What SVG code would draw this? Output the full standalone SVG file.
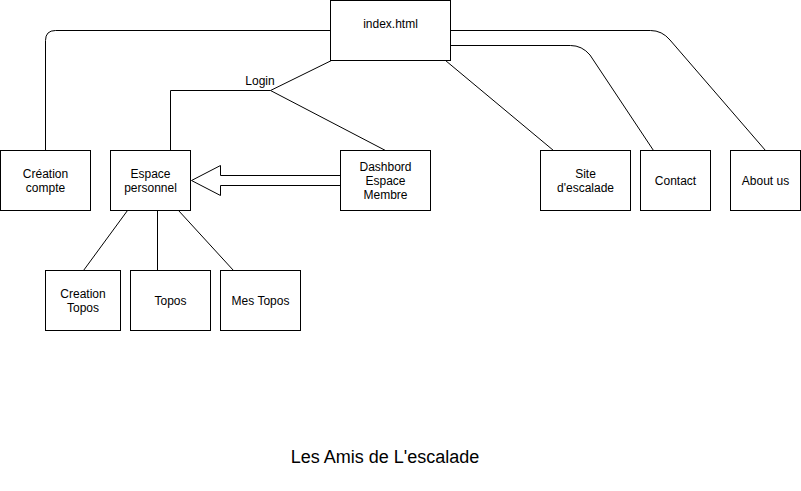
<svg xmlns="http://www.w3.org/2000/svg" width="801" height="491" viewBox="0 0 801 491">
<style>
.box{fill:#fff;stroke:#000;stroke-width:1}
.t{font-family:"Liberation Sans",Arial,sans-serif;font-size:12px;fill:#000;text-anchor:middle}
.c{fill:none;stroke:#000;stroke-width:1}
</style>
<rect width="801" height="491" fill="#fff"/>
<g id="connectors">
<path class="c" d="M330.5,30.5 L55.5,30.5 Q45.5,30.5 45.5,40.5 L45.5,150.5"/>
<path class="c" d="M450.5,30.5 L650.5,30.5 Q662,30.5 670,40 L765.5,150.5"/>
<path class="c" d="M450.5,45.5 L570.5,45.5 Q582,45.5 590,55 L653.5,150.5"/>
<path class="c" d="M445.5,60.5 L553.5,150.5"/>
<path class="c" d="M331.5,60.5 L270.5,90.5 L170.5,90.5 L170.5,150.5"/>
<path class="c" d="M270.5,90.5 L385.5,150.5"/>
<path class="c" d="M127.5,210.5 L83.5,270.5"/>
<path class="c" d="M157.5,210.5 L157.5,270.5"/>
<path class="c" d="M178.5,210.5 L233.5,270.5"/>
<polygon points="340.5,175.5 220.5,175.5 220.5,165.5 191.5,180.5 220.5,195.5 220.5,185.5 340.5,185.5" fill="#fff" stroke="#000" stroke-width="1"/>
<text class="t" x="260" y="85">Login</text>
</g>
<g id="index"><rect class="box" x="330.5" y="0.5" width="120" height="60"/><text class="t" x="390.5" y="28">index.html</text></g>
<g id="creation-compte"><rect class="box" x="0.5" y="150.5" width="90" height="60"/><text class="t" x="45.5" y="178">Création</text><text class="t" x="45.5" y="192">compte</text></g>
<g id="espace-personnel"><rect class="box" x="110.5" y="150.5" width="80" height="60"/><text class="t" x="150.5" y="178">Espace</text><text class="t" x="150.5" y="192">personnel</text></g>
<g id="dashbord"><rect class="box" x="340.5" y="150.5" width="90" height="60"/><text class="t" x="385.5" y="171">Dashbord</text><text class="t" x="385.5" y="185">Espace</text><text class="t" x="385.5" y="199">Membre</text></g>
<g id="site"><rect class="box" x="540.5" y="150.5" width="90" height="60"/><text class="t" x="585.5" y="178">Site</text><text class="t" x="585.5" y="192">d'escalade</text></g>
<g id="contact"><rect class="box" x="640.5" y="150.5" width="70" height="60"/><text class="t" x="675.5" y="185">Contact</text></g>
<g id="about"><rect class="box" x="730.5" y="150.5" width="70" height="60"/><text class="t" x="765.5" y="185">About us</text></g>
<g id="creation-topos"><rect class="box" x="45.5" y="270.5" width="75" height="60"/><text class="t" x="83" y="298">Creation</text><text class="t" x="83" y="312">Topos</text></g>
<g id="topos"><rect class="box" x="130.5" y="270.5" width="80" height="60"/><text class="t" x="170.5" y="305">Topos</text></g>
<g id="mes-topos"><rect class="box" x="220.5" y="270.5" width="80" height="60"/><text class="t" x="260.5" y="305">Mes Topos</text></g>
<text x="385" y="463" font-family="Liberation Sans,Arial,sans-serif" font-size="18" text-anchor="middle" fill="#000">Les Amis de L'escalade</text>
</svg>
